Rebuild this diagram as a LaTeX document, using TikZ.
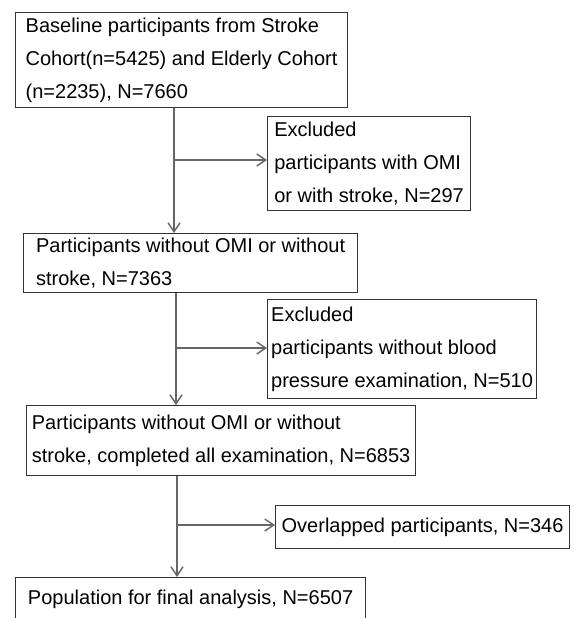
\documentclass[tikz,border=0pt]{standalone}
\usepackage{fontspec}
\setmainfont{Liberation Sans}
\usetikzlibrary{arrows.meta}
\tikzset{>={Straight Barb[length=9pt,width=12pt]}}
\tikzset{
    flowbox/.style={draw=black!80, line width=1.2pt, anchor=north west, align=left,
        inner sep=0pt, font=\fontsize{20}{33}\selectfont},
    flowline/.style={draw=black!60, line width=1.4pt}
}

\begin{document}
\begin{tikzpicture}[x=1pt, y=-1pt]
    \useasboundingbox (0,0) rectangle (573,618);
    % main column
    \node[flowbox, minimum width=332pt, minimum height=95pt] (base) at (15,12)
        {Baseline participants from Stroke\\Cohort(n=5425) and Elderly Cohort\\(n=2235), N=7660};
    \node[flowbox, minimum width=334pt, minimum height=59pt] (noomi) at (23,233)
        {Participants without OMI or without\\stroke, N=7363};
    \node[flowbox, minimum width=389pt, minimum height=70pt] (complete) at (26,405)
        {Participants without OMI or without\\stroke, completed all examination, N=6853};
    \node[flowbox, minimum width=350pt, minimum height=44pt] (final) at (15,577)
        {Population for final analysis, N=6507};
    % exclusions
    \node[flowbox, minimum width=203pt, minimum height=94pt] (exclA) at (267,116)
        {Excluded\\participants with OMI\\or with stroke, N=297};
    \node[flowbox, minimum width=269pt, minimum height=99pt] (exclB) at (267,299)
        {Excluded\\participants without blood\\pressure examination, N=510};
    \node[flowbox, minimum width=294pt, minimum height=43pt] (overl) at (275,505)
        {Overlapped participants, N=346};
    % connectors
    \coordinate (splitA) at (174,160);
    \coordinate (splitB) at (176,348);
    \coordinate (splitC) at (177,525);
    \draw[flowline, ->] (splitA |- base.south) -- (splitA |- noomi.north);
    \draw[flowline, ->] (splitA) -- (splitA -| exclA.west);
    \draw[flowline, ->] (splitB |- noomi.south) -- (splitB |- complete.north);
    \draw[flowline, ->] (splitB) -- (splitB -| exclB.west);
    \draw[flowline, ->] (splitC |- complete.south) -- (splitC |- final.north);
    \draw[flowline, ->] (splitC) -- (splitC -| overl.west);
\end{tikzpicture}
\end{document}
